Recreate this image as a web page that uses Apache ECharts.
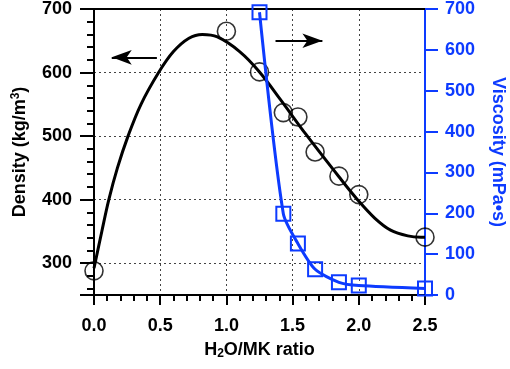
<!DOCTYPE html>
<html>
<head>
<meta charset="utf-8">
<script src="https://cdn.jsdelivr.net/npm/echarts@6/dist/echarts.min.js"></script>
<style>
html, body { margin: 0; padding: 0; background: #fff; }
#chart { width: 510px; height: 369px; }
</style>
</head>
<body>
<div id="chart"></div>
<script>
// 测量点 - 密度 (圆圈)
var ratioPts = [0, 1.0, 1.25, 1.43, 1.54, 1.67, 1.85, 2.0, 2.5];
var densityPts = [288, 665, 601, 537, 530, 475, 437, 408, 341];
// 拟合曲线
var fitRatio = [0, 0.059, 0.112, 0.177, 0.257, 0.355, 0.488, 0.6, 0.717, 0.818, 0.932, 1.1, 1.25, 1.41, 1.6, 1.85, 1.99, 2.12, 2.24, 2.37, 2.47, 2.5];
var fitDensity = [292, 350, 400, 450, 500, 550, 600, 633, 654, 660, 656, 633, 601, 557, 503, 436, 400, 371, 352, 343, 341, 341];
// 粘度 (方块)
var viscRatio = [1.25, 1.43, 1.54, 1.67, 1.85, 2.0, 2.5];
var viscValues = [692, 199, 126, 63, 31, 23, 16];
// 箭头 [x起点, x终点, y]
var arrowLeft = [0.475, 0.134, 624];
var arrowRight = [1.371, 1.725, 650];

var BLUE = '#0d3bff';
var FONT = 'Liberation Sans';

function pairs(xs, ys) {
    var out = [];
    for (var i = 0; i < xs.length; i++) {
        out.push([xs[i], ys[i]]);
    }
    return out;
}

var myChart = echarts.init(document.getElementById('chart'));
var option = {
    animation: false,
    backgroundColor: '#fff',
    grid: {
        left: 94,
        right: 85,
        top: 9,
        bottom: 74,
        outerBoundsMode: 'none'
    },
    xAxis: [{
        type: 'value',
        min: 0,
        max: 2.5,
        interval: 0.5,
        name: '{n|H}{sub|2}{n|O/MK ratio}',
        nameLocation: 'middle',
        nameGap: 45,
        nameTextStyle: {
            rich: {
                n: { fontFamily: FONT, fontWeight: 'bold', fontSize: 18, color: '#000' },
                sub: { fontFamily: FONT, fontWeight: 'bold', fontSize: 12, color: '#000', verticalAlign: 'bottom', padding: [8, 0, 0, 0] }
            }
        },
        axisLine: { onZero: false, lineStyle: { color: '#000', width: 2 } },
        axisTick: { inside: false, length: 10, lineStyle: { color: '#000', width: 2 } },
        minorTick: { show: true, splitNumber: 5, length: 6, lineStyle: { color: '#000', width: 2 } },
        axisLabel: {
            margin: 22,
            fontFamily: FONT,
            fontWeight: 'bold',
            fontSize: 18,
            color: '#000',
            formatter: function (v) { return v.toFixed(1); }
        },
        splitLine: { show: true, lineStyle: { color: '#444', width: 1, type: [2, 3] } }
    }, {
        type: 'value',
        position: 'top',
        min: 0,
        max: 2.5,
        axisLine: { onZero: false, lineStyle: { color: '#000', width: 2 } },
        axisTick: { show: false },
        axisLabel: { show: false },
        splitLine: { show: false }
    }],
    yAxis: [{
        type: 'value',
        position: 'left',
        min: 250,
        max: 700,
        splitNumber: 5,
        name: '{n|Density (kg/m}{sup|3}{n|)}',
        nameLocation: 'middle',
        nameGap: 64,
        nameTextStyle: {
            rich: {
                n: { fontFamily: FONT, fontWeight: 'bold', fontSize: 18, color: '#000' },
                sup: { fontFamily: FONT, fontWeight: 'bold', fontSize: 12, color: '#000', verticalAlign: 'top', padding: [0, 0, 8, 0] }
            }
        },
        axisLine: { show: true, onZero: false, lineStyle: { color: '#000', width: 2 } },
        axisTick: { inside: false, length: 14, lineStyle: { color: '#000', width: 2 } },
        minorTick: { show: true, splitNumber: 5, length: 7, lineStyle: { color: '#000', width: 2 } },
        axisLabel: {
            margin: 22,
            showMinLabel: false,
            fontFamily: FONT,
            fontWeight: 'bold',
            fontSize: 18,
            color: '#000'
        },
        splitLine: { show: true, lineStyle: { color: '#444', width: 1, type: [2, 3] } }
    }, {
        type: 'value',
        position: 'right',
        min: 0,
        max: 700,
        interval: 100,
        name: 'Viscosity (mPa•s)',
        nameLocation: 'middle',
        nameRotate: -90,
        nameGap: 64,
        nameTextStyle: { fontFamily: FONT, fontWeight: 'bold', fontSize: 18, color: BLUE },
        axisLine: { show: true, onZero: false, lineStyle: { color: BLUE, width: 2 } },
        axisTick: { inside: false, length: 13, lineStyle: { color: BLUE, width: 2 } },
        axisLabel: {
            margin: 20,
            fontFamily: FONT,
            fontWeight: 'bold',
            fontSize: 18,
            color: BLUE
        },
        splitLine: { show: false }
    }],
    series: [{
        name: 'fit',
        type: 'line',
        xAxisIndex: 0,
        yAxisIndex: 0,
        smooth: 0.35,
        showSymbol: false,
        lineStyle: { color: '#000', width: 3 },
        data: pairs(fitRatio, fitDensity),
        markLine: {
            silent: true,
            symbol: ['none', 'arrow'],
            symbolSize: [11, 20],
            label: { show: false },
            lineStyle: { color: '#000', width: 2, type: 'solid' },
            data: [
                [{ coord: [arrowLeft[0], arrowLeft[2]] }, { coord: [arrowLeft[1], arrowLeft[2]] }],
                [{ coord: [arrowRight[0], arrowRight[2]] }, { coord: [arrowRight[1], arrowRight[2]] }]
            ]
        }
    }, {
        name: 'density',
        type: 'scatter',
        xAxisIndex: 0,
        yAxisIndex: 0,
        symbol: 'circle',
        symbolSize: 18,
        itemStyle: { color: 'rgba(0,0,0,0)', borderColor: '#000', borderWidth: 1.6 },
        data: pairs(ratioPts, densityPts)
    }, {
        name: 'viscosity',
        type: 'line',
        xAxisIndex: 0,
        yAxisIndex: 1,
        smooth: 0.25,
        symbol: 'rect',
        symbolSize: 14,
        lineStyle: { color: BLUE, width: 3 },
        itemStyle: { color: 'rgba(0,0,0,0)', borderColor: BLUE, borderWidth: 2 },
        data: pairs(viscRatio, viscValues)
    }]
};
myChart.setOption(option);
</script>
</body>
</html>
